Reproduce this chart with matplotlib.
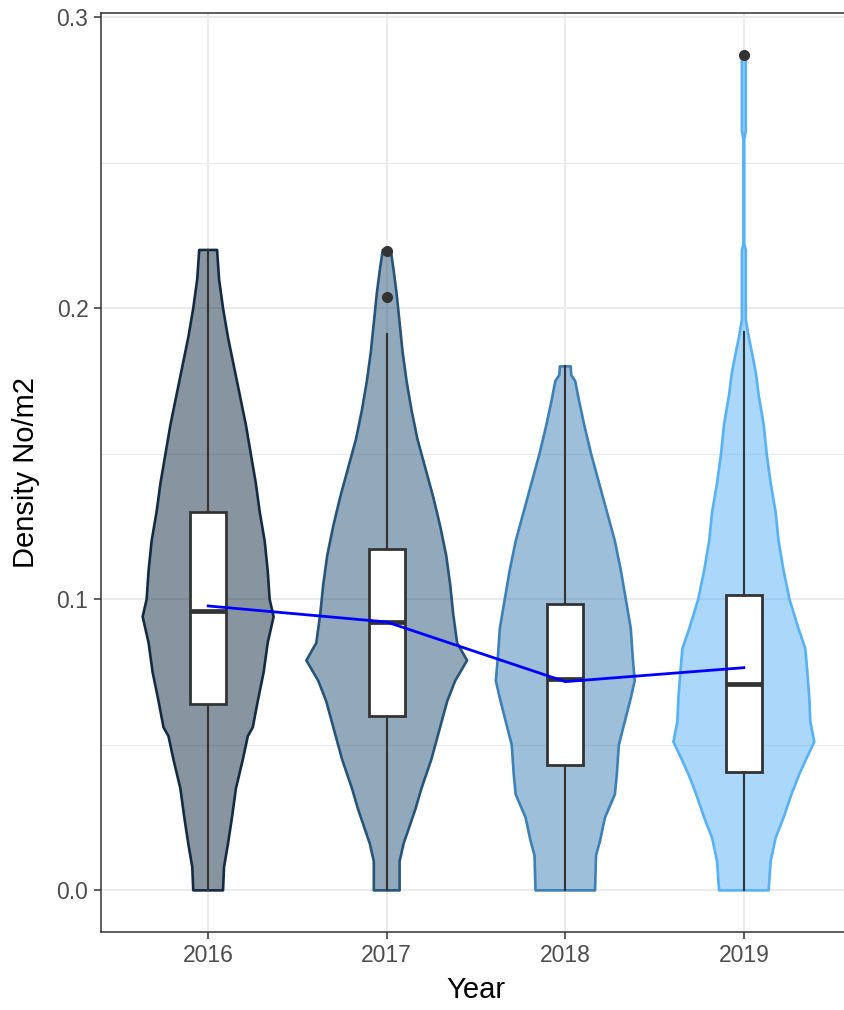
import matplotlib
matplotlib.use("Agg")
import matplotlib.pyplot as plt
import numpy as np

plt.rcParams["font.family"] = ["Liberation Sans", "DejaVu Sans"]

# --- data ---
years = ["2016", "2017", "2018", "2019"]

# violin outline: density levels and relative half-widths
lev_2016 = [0.000, 0.008, 0.016, 0.025, 0.035, 0.045, 0.053, 0.056, 0.065, 0.075, 0.085, 0.094,
            0.100, 0.110, 0.120, 0.130, 0.140, 0.150, 0.160, 0.170, 0.180, 0.190, 0.200, 0.210, 0.220]
dens_2016 = [15, 16, 20, 24, 28, 35, 40, 45, 50, 56, 60, 66,
             62, 60, 57, 52, 48, 43, 38, 32, 26, 20, 15, 11, 9]

lev_2017 = [0.000, 0.010, 0.016, 0.022, 0.028, 0.035, 0.045, 0.055, 0.065, 0.072, 0.079, 0.085, 0.095,
            0.105, 0.115, 0.125, 0.135, 0.145, 0.155, 0.165, 0.175, 0.185, 0.195, 0.205, 0.213, 0.220]
dens_2017 = [13, 13, 17, 23, 29, 35, 45, 53, 61, 69, 81, 71, 67,
             64, 60, 54, 47, 39, 31, 25, 20, 16, 13, 10, 7, 4]

lev_2018 = [0.000, 0.012, 0.017, 0.025, 0.033, 0.040, 0.050, 0.058, 0.066, 0.072, 0.080, 0.090,
            0.100, 0.110, 0.120, 0.130, 0.140, 0.150, 0.160, 0.168, 0.175, 0.177, 0.180]
dens_2018 = [30, 31, 35, 40, 50, 52, 54, 60, 66, 70, 68, 66,
             61, 56, 50, 42, 34, 26, 19, 14, 10, 6, 5.5]

lev_2019 = [0.000, 0.010, 0.018, 0.025, 0.033, 0.040, 0.046, 0.051, 0.058, 0.066, 0.075, 0.083,
            0.090, 0.100, 0.110, 0.120, 0.130, 0.140, 0.150, 0.160, 0.170, 0.178, 0.185, 0.190,
            0.196, 0.220, 0.222, 0.258, 0.261, 0.287]
dens_2019 = [25, 27, 32, 40, 48, 56, 64, 71, 67, 66, 64, 62,
             55, 46, 40, 35, 32, 27, 23, 20, 15, 12, 8, 5,
             2, 2, 0.4, 0.4, 2, 2]

levels = [lev_2016, lev_2017, lev_2018, lev_2019]
dens = [dens_2016, dens_2017, dens_2018, dens_2019]

# box plot statistics
q1 = [0.0641, 0.0600, 0.0429, 0.0408]
median = [0.0960, 0.0922, 0.0727, 0.0710]
q3 = [0.1300, 0.1173, 0.0984, 0.1015]
whisk_lo = [0.0, 0.0, 0.0, 0.0]
whisk_hi = [0.220, 0.191, 0.180, 0.1917]
outliers = [[], [0.2195, 0.2040], [], [0.2870]]

# yearly means (blue line)
means = [0.0977, 0.0922, 0.0717, 0.0765]

colors = ["#132B43", "#275479", "#3D80B6", "#56B1F7"]

# --- figure ---
fig = plt.figure(figsize=(8.45, 10.10), dpi=100)
ax = fig.add_axes([101 / 845, 78 / 1010, 750 / 845, 919 / 1010])

x = np.arange(1, len(years) + 1)
dmax = max(max(d) for d in dens)

for i in range(len(years)):
    lv = np.array(levels[i])
    hw = np.array(dens[i]) / dmax * 0.45
    xs = np.concatenate([x[i] - hw, (x[i] + hw)[::-1]])
    ys = np.concatenate([lv, lv[::-1]])
    ax.fill(xs, ys, facecolor=colors[i], alpha=0.5, edgecolor="none", zorder=2)
    ax.fill(xs, ys, facecolor="none", edgecolor=colors[i], linewidth=1.9,
            joinstyle="round", zorder=2.1)

    # boxplot
    bw = 0.1
    ax.plot([x[i], x[i]], [whisk_lo[i], q1[i]], color="#333333", lw=1.5, zorder=3)
    ax.plot([x[i], x[i]], [q3[i], whisk_hi[i]], color="#333333", lw=1.5, zorder=3)
    ax.add_patch(plt.Rectangle((x[i] - bw, q1[i]), 2 * bw, q3[i] - q1[i],
                               facecolor="white", edgecolor="#333333", lw=2.0, zorder=3))
    ax.plot([x[i] - bw, x[i] + bw], [median[i], median[i]], color="#333333", lw=3.4,
            solid_capstyle="butt", zorder=3.1)
    if outliers[i]:
        ax.plot([x[i]] * len(outliers[i]), outliers[i], "o", color="#333333",
                markersize=7, zorder=3.2)

ax.plot(x, means, color="#0000FF", lw=2.0, zorder=4)

ax.set_xlim(0.4, 4.6)
ax.set_ylim(-0.0143, 0.3014)
ax.set_xticks(x)
ax.set_xticklabels(years)
ax.set_yticks([0.0, 0.1, 0.2, 0.3])
ax.set_yticklabels(["0.0", "0.1", "0.2", "0.3"])
ax.set_yticks([0.05, 0.15, 0.25], minor=True)

ax.grid(True, which="major", color="#EBEBEB", lw=1.5, zorder=0)
ax.grid(True, which="minor", axis="y", color="#EBEBEB", lw=0.8, zorder=0)
ax.set_axisbelow(True)
ax.tick_params(axis="both", which="major", length=5, width=1.1, color="#333333",
               labelsize=16.5, labelcolor="#4D4D4D", pad=4)
ax.tick_params(axis="y", which="minor", length=0)
for s in ax.spines.values():
    s.set_color("#333333")
    s.set_linewidth(1.1)

ax.set_xlabel("Year", fontsize=21, labelpad=6)
ax.set_ylabel("Density No/m2", fontsize=21, labelpad=12)

fig.savefig("out.png", dpi=100)
